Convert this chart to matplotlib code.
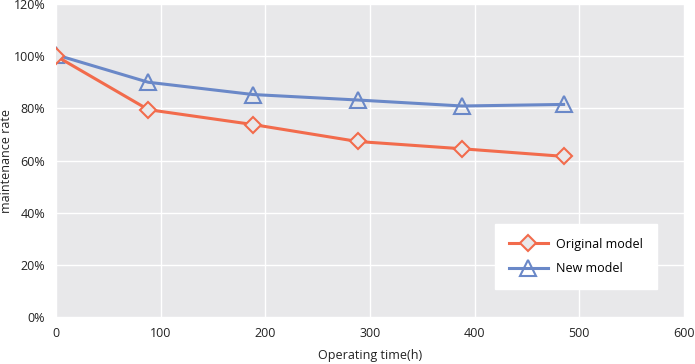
import matplotlib.pyplot as plt
from matplotlib.ticker import PercentFormatter

# data
hours = [0, 88, 188, 288, 388, 485]
original = [100, 79.5, 73.8, 67.3, 64.5, 61.6]
new_model = [100.5, 90, 85.3, 83.2, 80.9, 81.5]

orange = '#F26B4C'
blue = '#6A88C8'
bg = '#E8E8EA'

plt.rcParams['font.family'] = ['Open Sans', 'DejaVu Sans']

fig = plt.figure(figsize=(6.95, 3.64), dpi=100)
ax = fig.add_axes([0.081, 0.129, 0.903, 0.86])
ax.set_facecolor(bg)

ax.plot(hours, original, color=orange, lw=2.2, marker='D', ms=8,
        mfc=bg, mec=orange, mew=1.5, label='Original model', zorder=4)
ax.plot(hours, new_model, color=blue, lw=2.2, marker='^', ms=11,
        mfc='none', mec=blue, mew=1.5, label='New model', zorder=3)

ax.set_xlim(0, 600)
ax.set_ylim(0, 120)
ax.set_xticks(range(0, 601, 100))
ax.set_yticks(range(0, 121, 20))
ax.yaxis.set_major_formatter(PercentFormatter(decimals=0))
ax.grid(color='white', lw=1)
ax.set_axisbelow(True)
for s in ax.spines.values():
    s.set_visible(False)
ax.tick_params(length=0, labelsize=9, colors='#222222')
ax.tick_params(axis='y', pad=8)
ax.tick_params(axis='x', pad=7)

ax.set_xlabel('Operating time(h)', fontsize=9, color='#222222', labelpad=7)
ax.set_ylabel('maintenance rate', fontsize=9, color='#222222', labelpad=0)

leg = ax.legend(loc='lower right', bbox_to_anchor=(0.957, 0.089), borderaxespad=0,
                fontsize=9, frameon=True, fancybox=False, edgecolor='white',
                facecolor='white', framealpha=1, handlelength=3.1,
                handletextpad=0.7, borderpad=1.1, labelspacing=0.95)

fig.savefig('out.png', dpi=100)
